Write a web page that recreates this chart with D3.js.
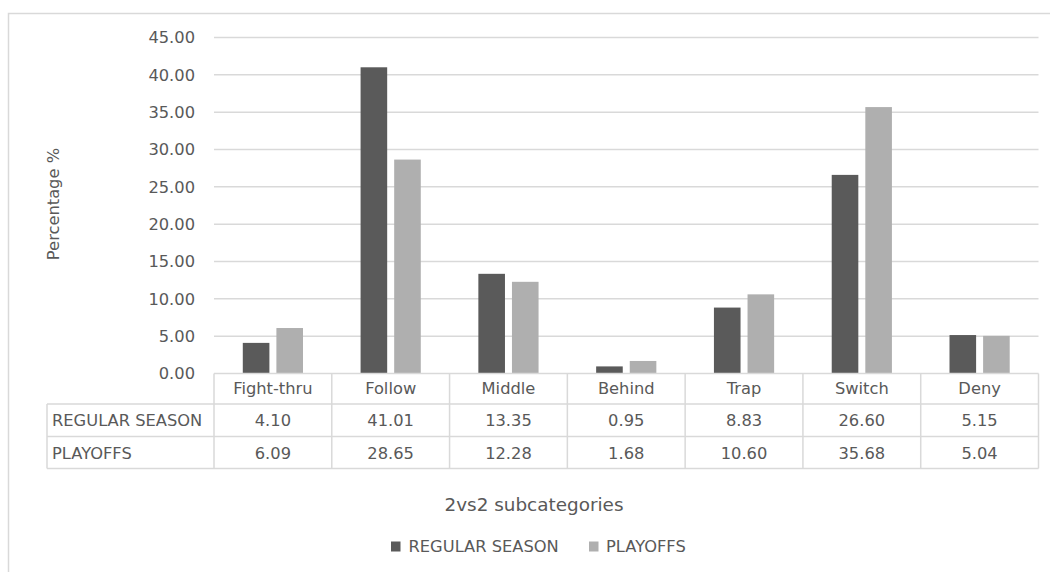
<!DOCTYPE html>
<html><head><meta charset="utf-8">
<script src="https://cdn.jsdelivr.net/npm/d3@7"></script>
<style>body{margin:0;background:#fff}svg{display:block}text{font-family:"DejaVu Sans",sans-serif;fill:#595959}</style>
</head><body><svg id="c" width="1050" height="572"></svg>
<script>
const categories = ["Fight-thru","Follow","Middle","Behind","Trap","Switch","Deny"];
const seriesNames = ["REGULAR SEASON","PLAYOFFS"];
const regularSeason = [4.10,41.01,13.35,0.95,8.83,26.60,5.15];
const playoffs = [6.09,28.65,12.28,1.68,10.60,35.68,5.04];
const yTicks = [0,5,10,15,20,25,30,35,40,45];
const colors = ["#5a5a5a","#afafaf"];

const FS = 16.3;
const svg = d3.select("#c");
const grid = "#d9d9d9";
// outer border
svg.append("rect").attr("x",8.5).attr("y",13.5).attr("width",1100).attr("height",700)
  .attr("fill","none").attr("stroke",grid).attr("stroke-width",1.5);

const left = 214, right = 1038.5;
const x = d3.scaleBand().domain(categories).range([left,right]);
const y = d3.scaleLinear().domain([0,45]).range([373.5,37.5]);
const series = [regularSeason, playoffs];

// gridlines
svg.append("g").selectAll("line").data(yTicks.filter(d=>d>0)).join("line")
  .attr("x1",left).attr("x2",right).attr("y1",d=>y(d)).attr("y2",d=>y(d))
  .attr("stroke",grid).attr("stroke-width",1.5);

// y axis labels
const yAxis = d3.axisLeft(y).tickValues(yTicks).tickFormat(d3.format(".2f")).tickSize(0).tickPadding(0);
const ya = svg.append("g").attr("transform",`translate(195,0)`).call(yAxis);
ya.select(".domain").remove();
ya.selectAll("text").attr("font-size",FS).style("font-family",'"DejaVu Sans",sans-serif').attr("fill","#595959");

svg.append("text").attr("transform","translate(59,204) rotate(-90)").attr("text-anchor","middle")
  .attr("font-size",FS).text("Percentage %");

// bars
const bw = 26.6, gap = 7;
series.forEach((s,i)=>{
  svg.append("g").selectAll("rect").data(s).join("rect")
    .attr("x",(d,j)=>x(categories[j])+x.bandwidth()/2 + (i===0 ? -gap/2-bw : gap/2))
    .attr("width",bw)
    .attr("y",d=>y(d)).attr("height",d=>y(0)-y(d))
    .attr("fill",colors[i]);
});

// data table
const rowY = [373.5, 404, 436.5, 468.5];
const tbl = svg.append("g");
const lineAttr = sel=>sel.attr("stroke",grid).attr("stroke-width",1.5);
tbl.append("line").attr("x1",left).attr("x2",right).attr("y1",rowY[0]).attr("y2",rowY[0]).call(lineAttr);
[1,2,3].forEach(k=>tbl.append("line").attr("x1",47).attr("x2",right).attr("y1",rowY[k]).attr("y2",rowY[k]).call(lineAttr));
tbl.append("line").attr("x1",47).attr("x2",47).attr("y1",rowY[1]).attr("y2",rowY[3]).call(lineAttr);
categories.forEach(c=>tbl.append("line").attr("x1",x(c)).attr("x2",x(c)).attr("y1",rowY[0]).attr("y2",rowY[3]).call(lineAttr));
tbl.append("line").attr("x1",right).attr("x2",right).attr("y1",rowY[0]).attr("y2",rowY[3]).call(lineAttr);
tbl.selectAll("text.h").data(categories).join("text").attr("class","h")
  .attr("x",d=>x(d)+x.bandwidth()/2).attr("y",(rowY[0]+rowY[1])/2+5.5).attr("text-anchor","middle")
  .attr("font-size",FS).text(d=>d);
series.forEach((s,i)=>{
  const cy = (rowY[i+1]+rowY[i+2])/2+6;
  tbl.append("text").attr("x",52).attr("y",cy).attr("font-size",FS).text(seriesNames[i]);
  tbl.append("g").selectAll("text").data(s).join("text")
    .attr("x",(d,j)=>x(categories[j])+x.bandwidth()/2).attr("y",cy).attr("text-anchor","middle")
    .attr("font-size",FS).text(d=>d.toFixed(2));
});

// x axis title
svg.append("text").attr("x",534).attr("y",511).attr("text-anchor","middle").attr("font-size",18.4).text("2vs2 subcategories");

// legend
const lg = [{x:391,tx:408.5},{x:589,tx:606}];
seriesNames.forEach((n,i)=>{
  svg.append("rect").attr("x",lg[i].x).attr("y",541.5).attr("width",9.5).attr("height",10).attr("fill",colors[i]);
  svg.append("text").attr("x",lg[i].tx).attr("y",552).attr("font-size",FS).text(n);
});
</script></body></html>
